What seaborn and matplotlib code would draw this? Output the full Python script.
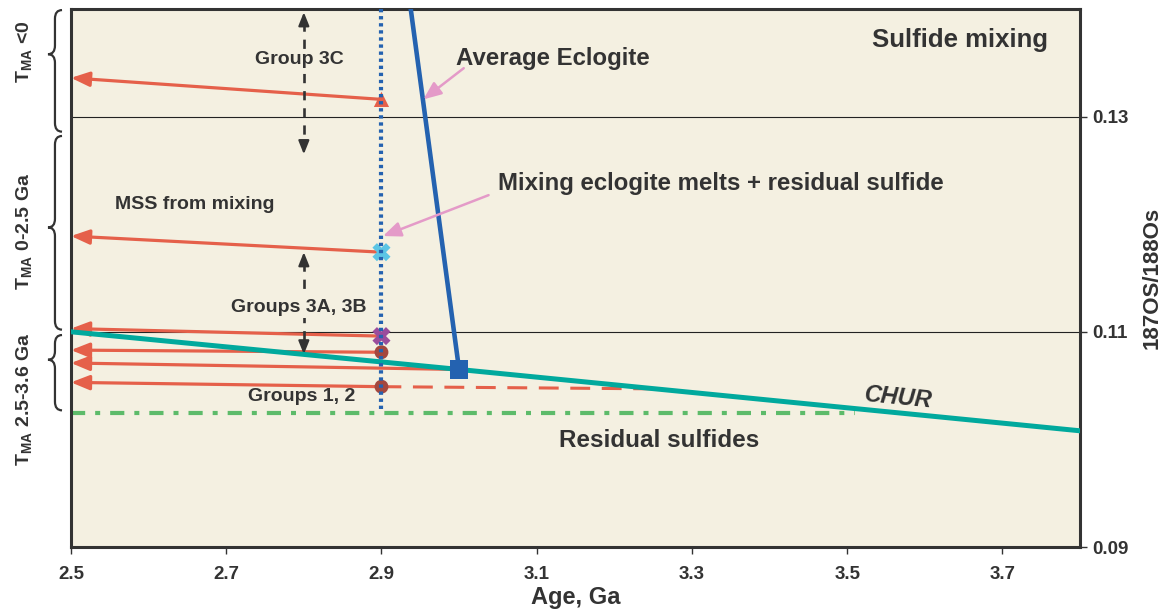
import matplotlib
matplotlib.use("Agg")
import matplotlib.pyplot as plt
import matplotlib.transforms as mtransforms
from matplotlib.path import Path
from matplotlib.patches import PathPatch
import seaborn as sns

# ---- data -------------------------------------------------------------
age_ticks = [2.5, 2.7, 2.9, 3.1, 3.3, 3.5, 3.7]
os_ticks = [0.09, 0.11, 0.13]

# chondritic uniform reservoir evolution
chur_age = [2.5, 3.0, 3.8]
chur_os = [0.1100, 0.1065, 0.1008]

# average eclogite growth line, ends at the CHUR intersection (3.0 Ga)
eclogite_age = [3.0, 2.934]
eclogite_os = [0.1065, 0.1420]

# sulfide groups sampled at 2.9 Ga, projected back to 2.5 Ga
sample_age = 2.9
arrow_from_age = [2.9, 2.9, 2.9, 2.9, 3.0, 2.9]
arrow_from_os = [0.1316, 0.1174, 0.1096, 0.1081, 0.1065, 0.1049]
arrow_to_os = [0.1336, 0.1189, 0.1103, 0.1083, 0.1071, 0.1053]

triangle_os = [0.1316]
cyan_x_os = [0.1174]
purple_x_os = [0.1096]
dot_os = [0.1081, 0.1049]
square_age, square_os = [3.0], [0.1065]

# residual sulfide trends
dashed_age = [2.9, 3.25]
dashed_os = [0.1049, 0.1047]
residual_age = [2.5, 3.51]
residual_os = [0.1025, 0.1025]

# vertical range bars for sulfide groups
group_bar_age = 2.8
group3c_range = [0.1397, 0.1265]
group3ab_range = [0.1174, 0.1079]
sample_line_os = [0.1400, 0.1027]

# model age brackets (top, tip, bottom)
brackets = [(0.1399, 0.1358, 0.1286), (0.1282, 0.1197, 0.1102), (0.1097, 0.1074, 0.1027)]
bracket_labels = [r"T$_{\mathbf{MA}}$ <0", r"T$_{\mathbf{MA}}$ 0-2.5 Ga", r"T$_{\mathbf{MA}}$ 2.5-3.6 Ga"]
bracket_label_os = [0.1360, 0.1193, 0.1037]

# ---- style -------------------------------------------------------------
sns.set_theme(style="white")
plt.rcParams["font.family"] = ["Liberation Sans", "DejaVu Sans"]
plt.rcParams["font.weight"] = "bold"
plt.rcParams["mathtext.fontset"] = "custom"
plt.rcParams["mathtext.rm"] = "Liberation Sans:bold"
plt.rcParams["mathtext.bf"] = "Liberation Sans:bold"

TXT = "#333333"
RED = "#E5604A"
TEAL = "#00A99D"
BLUE = "#2462B0"
GREEN = "#5DBB6A"
CYAN = "#5BC5E5"
PURPLE = "#9A4C9C"
BROWN = "#A4473E"
PINK = "#E49AC8"
BG = "#F4F0E1"

fig = plt.figure(figsize=(11.73, 6.15), dpi=100)
ax = fig.add_axes([71 / 1173, 1 - 547 / 615, 1009 / 1173, 538 / 615])
ax.set_facecolor(BG)
ax.set_xlim(2.5, 3.8)
ax.set_ylim(0.09, 0.1400)

for s in ax.spines.values():
    s.set_color(TXT)
    s.set_linewidth(2.2)


def line(x, y, color, lw, z, ls=None):
    sns.lineplot(x=x, y=y, color=color, ax=ax, sort=False,
                 estimator=None, zorder=z)
    ln = ax.lines[-1]
    ln.set_linewidth(lw)
    if ls is not None:
        ln.set_linestyle(ls)
        ln.set_dash_capstyle("butt")


# reference lines
for v in os_ticks[1:]:
    ax.axhline(v, color="#222222", lw=0.8, zorder=1)

# CHUR
line(chur_age, chur_os, TEAL, 3.6, 4)

# residual sulfide dash-dot
line(residual_age, residual_os, GREEN, 3.0, 2, (0, (3.4, 2.4, 1.2, 2.4)))

# dashed red continuation
line(dashed_age, dashed_os, RED, 2.2, 3, (0, (6.5, 3.8)))

# average eclogite line
line(eclogite_age, eclogite_os, BLUE, 3.3, 5)

# red arrows back to 2.5 Ga
for a0, y0, y1 in zip(arrow_from_age, arrow_from_os, arrow_to_os):
    ax.annotate("", xy=(2.5, y1), xytext=(a0, y0),
                arrowprops=dict(arrowstyle="-|>,head_length=0.55,head_width=0.22",
                                mutation_scale=20, lw=2.3, color=RED,
                                shrinkA=0, shrinkB=0),
                zorder=3)

# group range bars (dashed shaft + solid heads)
for top, bot in (group3c_range, group3ab_range):
    line([group_bar_age, group_bar_age], [top - 0.0009, bot + 0.0009],
         TXT, 1.9, 3, (0, (3.5, 3)))
    for tip, base in ((top, top - 0.0012), (bot, bot + 0.0012)):
        ax.annotate("", xy=(group_bar_age, tip), xytext=(group_bar_age, base),
                    arrowprops=dict(arrowstyle="-|>,head_length=0.5,head_width=0.2",
                                    mutation_scale=16, lw=1.6, color=TXT,
                                    shrinkA=0, shrinkB=0),
                    zorder=3)

# markers
sns.scatterplot(x=[sample_age], y=triangle_os, marker="^", s=120, color=RED,
                edgecolor="none", ax=ax, zorder=6)
sns.scatterplot(x=[sample_age], y=cyan_x_os, marker="X", s=170, color=CYAN,
                edgecolor="none", ax=ax, zorder=6)
sns.scatterplot(x=[sample_age], y=purple_x_os, marker="X", s=170, color=PURPLE,
                edgecolor="none", ax=ax, zorder=6)
sns.scatterplot(x=[sample_age] * len(dot_os), y=dot_os, marker="o", s=100, color=BROWN,
                edgecolor="none", ax=ax, zorder=6)
sns.scatterplot(x=square_age, y=square_os, marker="s", s=170, color=BLUE,
                edgecolor="none", ax=ax, zorder=7)

# sample age line
line([sample_age, sample_age], sample_line_os, BLUE, 3.0, 8, (0, (0.8, 0.9)))

# pink callout arrows
for start, end in (((3.006, 0.1345), (2.954, 0.1316)), ((3.038, 0.1227), (2.902, 0.1189))):
    ax.annotate("", xy=end, xytext=start,
                arrowprops=dict(arrowstyle="-|>,head_length=0.6,head_width=0.25",
                                mutation_scale=18, lw=1.8, color=PINK,
                                shrinkA=0, shrinkB=0),
                zorder=9)

# text labels
box = dict(facecolor=BG, edgecolor="none", pad=1.5)
ax.text(3.645, 0.1371, "Sulfide mixing", fontsize=18.5, color=TXT, ha="center", va="center")
ax.text(2.794, 0.1353, "Group 3C", fontsize=14, color=TXT, ha="center", va="center", bbox=box, zorder=4)
ax.text(2.659, 0.1218, "MSS from mixing", fontsize=14, color=TXT, ha="center", va="center")
ax.text(2.794, 0.1123, "Groups 3A, 3B", fontsize=14, color=TXT, ha="center", va="center", bbox=box, zorder=4)
ax.text(2.797, 0.1040, "Groups 1, 2", fontsize=14, color=TXT, ha="center", va="center")
ax.text(3.258, 0.0999, "Residual sulfides", fontsize=17.5, color=TXT, ha="center", va="center")
ax.text(3.121, 0.1354, "Average Eclogite", fontsize=17.3, color=TXT, ha="center", va="center")
ax.text(3.337, 0.1238, "Mixing eclogite melts + residual sulfide", fontsize=17.3,
        color=TXT, ha="center", va="center")
ax.text(3.566, 0.1039, "CHUR", fontsize=17, style="italic", color=TXT,
        ha="center", va="center", rotation=-5.6)

# model age brackets on the left margin
blend = mtransforms.blended_transform_factory(ax.transAxes, ax.transData)
xs, xt, xe = -0.0159, -0.0228, -0.0089
d = 0.0008
for (yt, ym, yb), lab, ly in zip(brackets, bracket_labels, bracket_label_os):
    verts = [(xe, yt), (xs, yt), (xs, yt - d),
             (xs, ym + d),
             (xs, ym), (xt, ym),
             (xs, ym), (xs, ym - d),
             (xs, yb + d),
             (xs, yb), (xe, yb)]
    codes = [Path.MOVETO, Path.CURVE3, Path.CURVE3,
             Path.LINETO,
             Path.CURVE3, Path.CURVE3,
             Path.CURVE3, Path.CURVE3,
             Path.LINETO,
             Path.CURVE3, Path.CURVE3]
    ax.add_patch(PathPatch(Path(verts, codes), transform=blend, fill=False,
                           edgecolor=TXT, lw=1.6, clip_on=False))
    ax.text(-0.0456, ly, lab, transform=blend, rotation=90, fontsize=14,
            color=TXT, ha="center", va="center", clip_on=False)

# axes, ticks, labels
ax.set_xticks(age_ticks)
ax.set_xticklabels([f"{v:.1f}" for v in age_ticks])
ax.yaxis.tick_right()
ax.yaxis.set_label_position("right")
ax.set_yticks(os_ticks)
ax.set_yticklabels([f"{v:.2f}" for v in os_ticks])
ax.tick_params(axis="both", direction="out", length=5, width=1, color=TXT,
               labelsize=13.5, labelcolor=TXT, pad=9)
ax.tick_params(axis="y", left=False, right=True, pad=4)
ax.tick_params(axis="x", bottom=True)
ax.set_xlabel("Age, Ga", fontsize=17, color=TXT, labelpad=2, fontweight="bold")
ax.set_ylabel("187OS/188Os", fontsize=16, color=TXT, labelpad=9, fontweight="bold")

fig.savefig("out.png", dpi=100, facecolor="white")
